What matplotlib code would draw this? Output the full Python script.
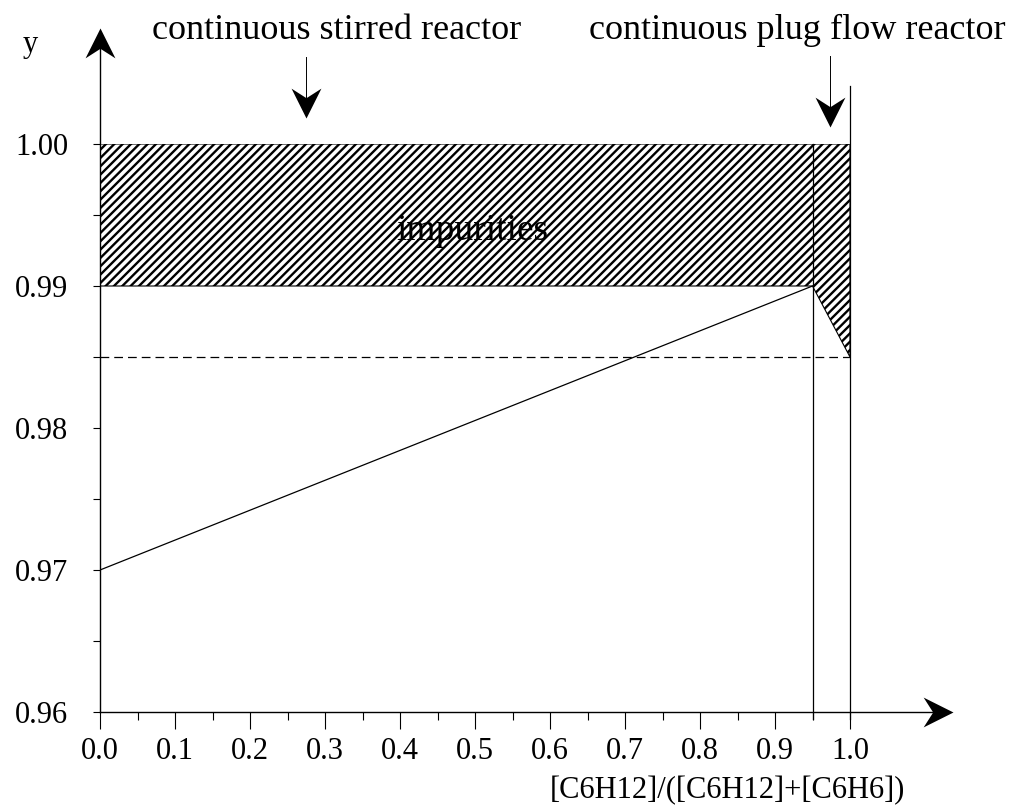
import numpy as np
import matplotlib.pyplot as plt
from matplotlib.path import Path
from matplotlib.ticker import MultipleLocator

plt.rcParams['font.family'] = ['Liberation Serif', 'DejaVu Serif']
plt.rcParams['hatch.linewidth'] = 1.7

# conversion axis and purity of the product stream
x_ticks = [0.0, 0.1, 0.2, 0.3, 0.4, 0.5, 0.6, 0.7, 0.8, 0.9, 1.0]
y_ticks = [0.96, 0.97, 0.98, 0.99, 1.00]

# purity curve: stirred reactor up to 0.95, then plug flow to 1.0
curve_x = [0.0, 0.95, 1.0]
curve_y = [0.970, 0.990, 0.985]

spec_level = 0.985      # dashed specification line
impurity_floor = 0.99   # lower edge of the impurities band
y_top = 1.00
x_switch = 0.95


def stealth(angle):
    """Concave arrow head with its tip at the origin, pointing along angle."""
    pts = np.array([[0, 0], [-0.5, -1.0], [0, -0.68], [0.5, -1.0], [0, 0]])
    a = np.deg2rad(angle - 90)
    rot = np.array([[np.cos(a), -np.sin(a)], [np.sin(a), np.cos(a)]])
    return Path(pts @ rot.T, [Path.MOVETO, Path.LINETO, Path.LINETO,
                              Path.LINETO, Path.CLOSEPOLY])


fig = plt.figure(figsize=(10.16, 8.05), dpi=100)
ax = fig.add_axes([100 / 1016, 93 / 805, 750 / 1016, 568 / 805])
ax.set_xlim(0, 1.0)
ax.set_ylim(0.96, 1.00)
for s in ax.spines.values():
    s.set_visible(False)

# impurities band (hatched)
band_x = [0.0, x_switch, curve_x[2], curve_x[2], 0.0]
band_y = [impurity_floor, curve_y[1], curve_y[2], y_top, y_top]
ax.fill(band_x, band_y, facecolor='white', edgecolor='black', hatch='////',
        linewidth=0.8, zorder=1)
ax.text(0.496, 0.9939, 'impurities', ha='center', va='center', fontsize=27,
        zorder=3)

# purity curve and spec line
ax.plot(curve_x[:2], curve_y[:2], color='black', lw=0.9, zorder=2)
ax.plot([0, 1.0], [spec_level, spec_level], color='black', lw=0.9,
        dashes=(7, 4), zorder=2)

# vertical markers at the reactor switch and full conversion
ax.plot([x_switch, x_switch], [0.9595, y_top], color='black', lw=0.9,
        clip_on=False)
ax.plot([1.0, 1.0], [0.9595, 1.0041], color='black', lw=0.9, clip_on=False)

# axes drawn as lines ending in arrow heads
line_kw = dict(color='black', lw=1.0, clip_on=False)
head_kw = dict(color='black', markersize=43, markeredgewidth=0, clip_on=False)
ax.plot([0, 0], [0.96, 1.0076], **line_kw)
ax.plot([0], [1.0082], marker=stealth(90), **head_kw)
ax.plot([0, 1.125], [0.96, 0.96], **line_kw)
ax.plot([1.137], [0.96], marker=stealth(0), **head_kw)

# reactor labels with downward arrows
ax.text(0.316, 1.0080, 'continuous stirred reactor', ha='center',
        va='center', fontsize=26, clip_on=False)
ax.text(0.93, 1.0080, 'continuous plug flow reactor', ha='center',
        va='center', fontsize=26, clip_on=False)
ax.plot([0.275, 0.275], [1.0061, 1.0024], lw=0.7, color='black', clip_on=False)
ax.plot([0.275], [1.0018], marker=stealth(-90), **head_kw)
ax.plot([0.973, 0.973], [1.0062, 1.0018], lw=0.7, color='black', clip_on=False)
ax.plot([0.973], [1.0012], marker=stealth(-90), **head_kw)

# ticks
ax.set_xticks(x_ticks)
ax.set_xticklabels([f'{v:.1f}' for v in x_ticks])
ax.xaxis.set_minor_locator(MultipleLocator(0.05))
ax.set_yticks(y_ticks)
ax.set_yticklabels([f'{v:.2f}' for v in y_ticks])
ax.yaxis.set_minor_locator(MultipleLocator(0.005))
ax.tick_params(axis='x', which='major', direction='out', length=12, width=0.8,
               labelsize=22, pad=6)
ax.tick_params(axis='x', which='minor', direction='out', length=6, width=0.8)
ax.tick_params(axis='y', which='both', direction='out', length=5, width=0.8,
               labelsize=22, pad=18)

ax.text(-0.093, 1.0070, 'y', ha='center', va='center', fontsize=22,
        clip_on=False)
ax.text(0.836, 0.9545, '[C6H12]/([C6H12]+[C6H6])', ha='center', va='center',
        fontsize=22, clip_on=False)

fig.savefig('out.png', dpi=100)
